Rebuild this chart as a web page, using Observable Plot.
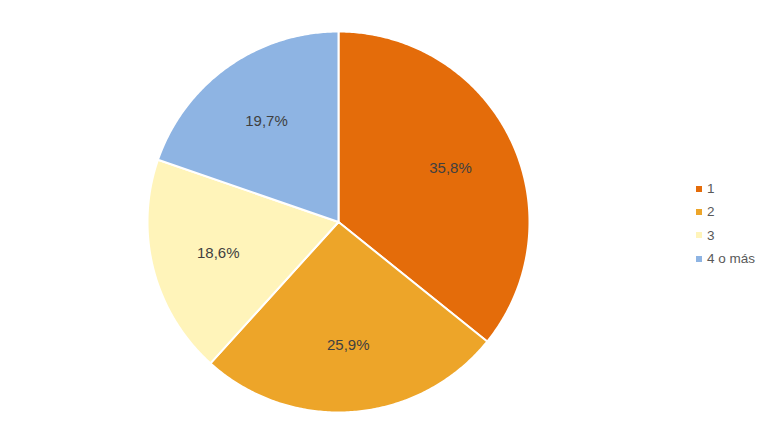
<!DOCTYPE html>
<html>
<head>
<meta charset="utf-8">
<script src="https://cdn.jsdelivr.net/npm/d3@7"></script>
<script src="https://cdn.jsdelivr.net/npm/@observablehq/plot@0.6"></script>
<style>
  html, body { margin: 0; padding: 0; background: #fff; }
  #wrap { position: relative; width: 762px; height: 434px; }
  #legend { position: absolute; left: 696px; top: 177px; font-family: "Liberation Sans", Arial, sans-serif; font-size: 13.5px; color: #595959; }
  .row { height: 23.3px; display: flex; align-items: center; }
  .sw { width: 6px; height: 6px; margin-right: 5px; }
</style>
</head>
<body>
<div id="wrap"></div>
<script>
const categories = ["1", "2", "3", "4 o más"];
const values = [35.8, 25.9, 18.6, 19.7];
const colors = ["#E46C0A", "#EDA529", "#FFF4BA", "#8EB4E3"];

const total = d3.sum(values);
const cum = d3.cumsum(values);
const slices = categories.map((c, i) => ({
  cat: c,
  value: values[i],
  start: (cum[i] - values[i]) / total * 2 * Math.PI,
  end: cum[i] / total * 2 * Math.PI
}));

// polygon outline of each slice (circle geometry)
const pts = [];
for (const s of slices) {
  pts.push({cat: s.cat, x: 0, y: 0});
  const n = Math.max(2, Math.ceil((s.end - s.start) / 0.01));
  for (let k = 0; k <= n; k++) {
    const a = s.start + (s.end - s.start) * k / n;
    pts.push({cat: s.cat, x: Math.sin(a), y: Math.cos(a)});
  }
  pts.push({cat: s.cat, x: 0, y: 0});
}
const labelR = 0.65;
const labels = slices.map(s => {
  const a = (s.start + s.end) / 2;
  return {cat: s.cat, x: labelR * Math.sin(a), y: labelR * Math.cos(a),
          text: s.value.toFixed(1).replace(".", ",") + "%"};
});

const chart = Plot.plot({
  width: 762,
  height: 434,
  marginLeft: 147,
  marginRight: 233,
  marginTop: 31,
  marginBottom: 22,
  x: {domain: [-1, 1], axis: null},
  y: {domain: [-1, 1], axis: null},
  color: {domain: categories, range: colors},
  style: {fontFamily: "'Liberation Sans', Arial, sans-serif", background: "white"},
  marks: [
    Plot.line(pts, {x: "x", y: "y", z: "cat", fill: "cat", stroke: "white", strokeWidth: 2, strokeLinejoin: "round", curve: "linear"}),
    Plot.text(labels, {x: "x", y: "y", text: "text", fill: "#404040", fontSize: 15})
  ]
});

const wrap = document.getElementById("wrap");
wrap.appendChild(chart);
const legend = document.createElement("div");
legend.id = "legend";
categories.forEach((c, i) => {
  const row = document.createElement("div");
  row.className = "row";
  const sw = document.createElement("span");
  sw.className = "sw";
  sw.style.background = colors[i];
  const t = document.createElement("span");
  t.textContent = c;
  row.appendChild(sw);
  row.appendChild(t);
  legend.appendChild(row);
});
wrap.appendChild(legend);
</script>
</body>
</html>
